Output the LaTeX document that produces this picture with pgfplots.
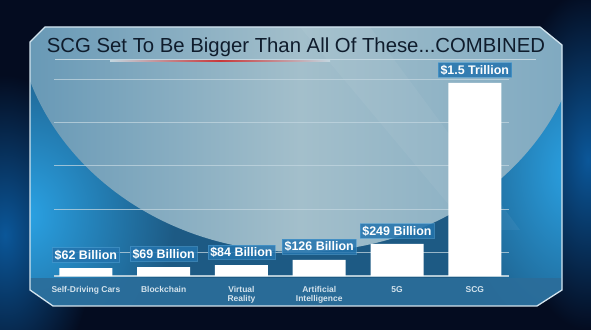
\documentclass[border=0pt]{standalone}
\usepackage{fontspec}
\setmainfont{Liberation Sans}
\usepackage{pgfplots}
\pgfplotsset{compat=1.18}
\definecolor{bg}{HTML}{040C20}
\definecolor{bgglow}{HTML}{0B5799}
\definecolor{panelbase}{HTML}{1D5A84}
\definecolor{panelglow}{HTML}{2AA2E4}
\definecolor{ellL}{HTML}{6597B5}
\definecolor{ellM}{HTML}{A3BFCB}
\definecolor{ellR}{HTML}{7DA8C0}
\definecolor{band}{HTML}{2B6D9A}
\definecolor{edge}{HTML}{D3E4EE}
\definecolor{titlec}{HTML}{0F1C2C}
\definecolor{labelc}{HTML}{D4E3EC}
\definecolor{boxc}{HTML}{2474AE}
\definecolor{boxb}{HTML}{4C9BD0}
\definecolor{gridc}{HTML}{C2D6E0}
\definecolor{redline}{HTML}{C8383A}
\begin{document}
\begin{tikzpicture}
\useasboundingbox (0,0) rectangle (591bp,330bp);
\begin{scope}[x=1bp,y=-1bp,yshift=330bp]
  \fill[bg] (0,0) rectangle (591,330);
  \shade[inner color=bgglow, outer color=bg] (5,235) ellipse (90 and 160);
  \shade[inner color=bgglow, outer color=bg] (588,160) ellipse (80 and 170);
  \begin{scope}
    \clip (45,27)--(540,27)--(562,45)--(562,290)--(537,306)--(53,306)--(30,290)--(30,42)--cycle;
    \fill[panelbase] (0,0) rectangle (591,330);
    \shade[inner color=panelglow, outer color=panelbase] (25,215) ellipse (150 and 170);
    \shade[inner color=panelglow, outer color=panelbase] (575,170) ellipse (130 and 190);
    \shade[left color=ellL, right color=ellR, middle color=ellM] (300,0) ellipse (285 and 252);
    \fill[white, opacity=0.05] (300,27)--(370,27)--(520,230)--(470,230)--cycle;
    \fill[band, opacity=0.9] (0,278) rectangle (591,330);
  \end{scope}
  \draw[edge, line width=1.3bp] (45,27)--(540,27)--(562,45)--(562,290)--(537,306)--(53,306)--(30,290)--(30,42)--cycle;
  \draw[gridc, line width=1.2bp] (55,59.5)--(536,59.5);
  \shade[left color=gridc, right color=gridc, middle color=redline] (110,60.3) rectangle (330,61.5);
  \node[anchor=base, text=titlec, font=\fontsize{20.4}{24}\selectfont, inner sep=0pt] at (296,53) {SCG Set To Be Bigger Than All Of These...COMBINED};
\end{scope}
\begin{axis}[
  at={(54bp,54bp)}, anchor=south west,
  scale only axis, width=455bp, height=197bp,
  xmin=-0.41, xmax=5.44, ymin=0, ymax=1531,
  clip=false,
  axis line style={draw=none},
  major tick length=0pt,
  xtick={0,1,2,3,4,5},
  xticklabels={Self-Driving Cars, Blockchain, Virtual\\Reality, Artificial\\Intelligence, 5G, SCG},
  xticklabel style={font=\bfseries\fontsize{8.5}{9.3}\selectfont, text=labelc, align=center, anchor=north, yshift=-7bp},
  ytick={186,520,862,1197,1531},
  yticklabels={},
  ymajorgrids,
  grid style={gridc, line width=0.9bp, opacity=0.75},
  extra y ticks={0}, extra y tick labels={},
  extra y tick style={grid style={gridc, line width=1.3bp, opacity=0.9}},
  nodes near coords,
  point meta=explicit symbolic,
  nodes near coords style={font=\bfseries\fontsize{12.5}{14}\selectfont, text=white, fill=boxc, fill opacity=0.85, text opacity=1, draw=boxb, draw opacity=0.6, line width=0.6bp, inner xsep=2.5bp, inner ysep=2.2bp, anchor=south, yshift=5.5bp},
]
\addplot[ybar, bar width=53bp, fill=white, draw=none] coordinates {
  (0,62) [\$62 Billion]
  (1,69) [\$69 Billion]
  (2,84) [\$84 Billion]
  (3,126) [\$126 Billion]
  (4,249) [\$249 Billion]
  (5,1500) [\$1.5 Trillion]
};
\end{axis}
\end{tikzpicture}
\end{document}
